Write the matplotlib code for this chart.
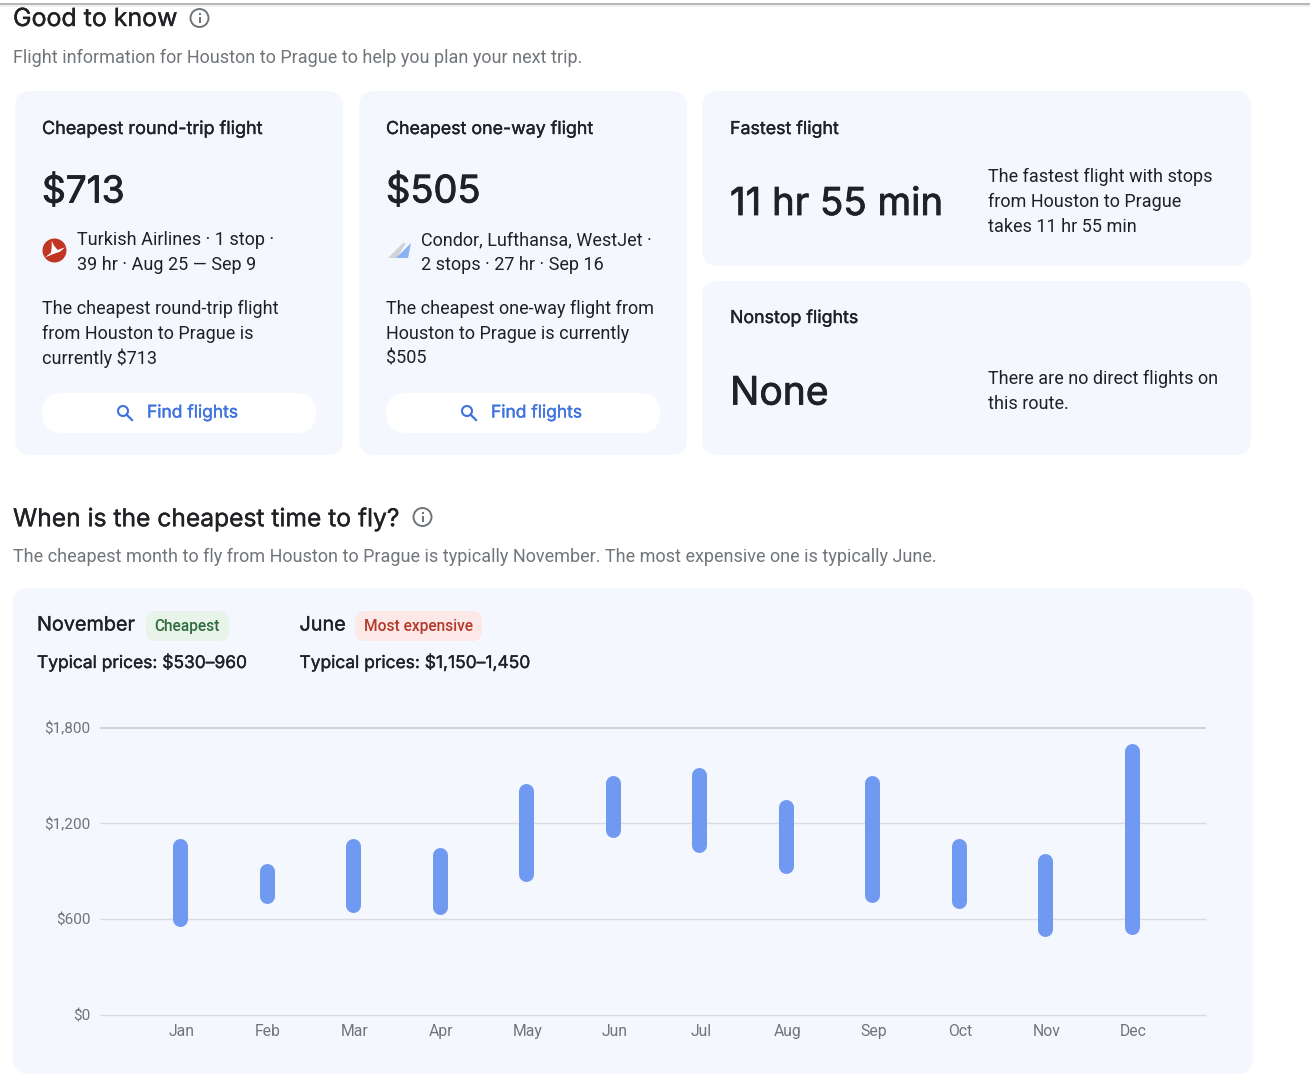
import matplotlib
matplotlib.use('Agg')
import matplotlib.pyplot as plt
import matplotlib.patheffects as pe
from matplotlib.patches import FancyBboxPatch, Circle, Polygon, Rectangle
from matplotlib.transforms import ScaledTranslation

# Datos del grafico
months = ['Jan', 'Feb', 'Mar', 'Apr', 'May', 'Jun', 'Jul', 'Aug', 'Sep', 'Oct', 'Nov', 'Dec']
price_low = [554, 698, 642, 629, 836, 1111, 1017, 886, 704, 667, 491, 504]
price_high = [1103, 948, 1104, 1049, 1447, 1500, 1547, 1350, 1500, 1103, 1009, 1697]
y_ticks = [0, 600, 1200, 1800]
y_labels = ['$0', '$600', '$1,200', '$1,800']

BODY = 'Roboto'
HEAD = 'Inter'
CARD = '#f4f7fe'
DARK = '#202124'
GRAY = '#70757a'
BLUE = '#3f73e0'

fig = plt.figure(figsize=(13.10, 10.81), dpi=100, facecolor='white')

# Fondo en coordenadas de pixel
bg = fig.add_axes([0, 0, 1, 1])
bg.set_xlim(0, 1310)
bg.set_ylim(1081, 0)
bg.axis('off')


def px(size):
    return size * 0.72


def box(x0, y0, x1, y1, r, color):
    bg.add_patch(FancyBboxPatch((x0, y0), x1 - x0, y1 - y0, boxstyle=f'round,pad=0,rounding_size={r}',
                                fc=color, ec='none'))


def txt(x, y, s, size=17.95, color=DARK, family=BODY, **kw):
    kw.setdefault('va', 'center')
    bg.text(x, y + 1, s, fontsize=px(size), color=color, family=family, **kw)


def head(x, y, s, size, color=DARK, stroke=0.25):
    # Inter sale en regular, un trazo fino lo acerca al peso medium
    t = bg.text(x, y + 1, s, fontsize=px(size), color=color, family=HEAD, va='center')
    t.set_path_effects([pe.withStroke(linewidth=stroke, foreground=color)])


def info_icon(x, y):
    bg.add_patch(Circle((x, y), 9, fc='none', ec='#70757a', lw=1.4))
    bg.add_patch(Rectangle((x - 1, y - 1), 2, 6, fc='#70757a', ec='none'))
    bg.add_patch(Rectangle((x - 1, y - 5), 2, 2, fc='#70757a', ec='none'))


def find_button(x0, x1):
    box(x0, 393, x1, 433, 20, 'white')
    cx = x0 + 81
    bg.add_patch(Circle((cx, 411), 5, fc='none', ec=BLUE, lw=1.5))
    bg.plot([cx + 3.5, cx + 9], [414.5, 420], color=BLUE, lw=1.6)
    head(x0 + 105, 412, 'Find flights', 17.4, BLUE)


# Sombra superior
bg.plot([0, 1310], [4, 4], color='#b5b7ba', lw=1.4)
bg.plot([0, 1310], [5.5, 5.5], color='#eceded', lw=1.2)

# Encabezado
head(13, 18.5, 'Good to know', 24.9)
info_icon(199.5, 18)
txt(13, 57, 'Flight information for Houston to Prague to help you plan your next trip.', color=GRAY)

# Tarjetas
box(15, 91, 343, 455, 16, CARD)
box(359, 91, 687, 455, 16, CARD)
box(702, 91, 1251, 266, 16, CARD)
box(702, 281, 1251, 455, 16, CARD)

head(42, 128.5, 'Cheapest round-trip flight', 18)
head(42, 191.5, '$713', 37, stroke=0.6)
bg.add_patch(Circle((54.5, 250.5), 12, fc='#c03523', ec='none'))
bg.add_patch(Polygon([(51.7, 241), (54.3, 246), (57.7, 250), (65, 247.3), (60, 251.7), (53.3, 254),
                      (45, 257.3), (51, 252.7), (51.7, 246.7)], fc='white', ec='none'))
txt(77, 239, 'Turkish Airlines · 1 stop ·')
txt(77, 264, '39 hr · Aug 25 — Sep 9')
txt(42, 307.5, 'The cheapest round-trip flight')
txt(42, 332.8, 'from Houston to Prague is')
txt(42, 357.5, 'currently $713')
find_button(42, 316)

head(386, 128.5, 'Cheapest one-way flight', 17.8)
head(386, 191.5, '$505', 38, stroke=0.6)
bg.add_patch(Polygon([(388, 258), (403, 243), (406, 243), (397, 258)], fc='#d0d3d8', ec='none'))
bg.add_patch(Polygon([(396, 258), (411, 243), (408, 258)], fc='#8ab0f5', ec='none'))
txt(421, 239, 'Condor, Lufthansa, WestJet ·')
txt(421, 264, '2 stops · 27 hr · Sep 16')
txt(386, 307.5, 'The cheapest one-way flight from')
txt(386, 332.8, 'Houston to Prague is currently')
txt(386, 357.5, '$505')
find_button(386, 660)

head(730, 128.5, 'Fastest flight', 17.8)
head(730, 204, '11 hr 55 min', 38.4, stroke=0.6)
txt(988, 175.5, 'The fastest flight with stops')
txt(988, 200.5, 'from Houston to Prague')
txt(988, 225.5, 'takes 11 hr 55 min')

head(730, 317.5, 'Nonstop flights', 17.8)
head(730, 393, 'None', 39, stroke=0.6)
txt(988, 377.5, 'There are no direct flights on')
txt(988, 402.8, 'this route.')

# Segunda seccion
head(13, 518.5, 'When is the cheapest time to fly?', 24.6)
info_icon(422.5, 517)
txt(13, 556, 'The cheapest month to fly from Houston to Prague is typically November. The most expensive one is typically June.', color=GRAY)

box(13, 588, 1253, 1074, 16, CARD)
head(37, 624.5, 'November', 19.8)
box(146, 611, 229, 641, 10, '#e8f3ea')
txt(154, 625, 'Cheapest', 15.5, '#2f6b3c', weight='medium')
head(37, 661.5, 'Typical prices: $530–960', 17.4)
head(299.5, 624.5, 'June', 19.8)
box(355, 611, 482, 641, 10, '#fce8e6')
txt(364, 625, 'Most expensive', 15.5, '#b3392b', weight='medium')
head(299.5, 661.5, 'Typical prices: $1,150–1,450', 17.4)

# Grafico de rangos
left, right, top, bottom = 100, 1206, 727.5, 1015
ax = fig.add_axes([left / 1310, 1 - bottom / 1081, (right - left) / 1310, (bottom - top) / 1081])
ax.patch.set_alpha(0)
ax.set_ylim(0, 1800)
ax.set_xlim(-0.925, 11.855)
for s in ax.spines.values():
    s.set_visible(False)

for t in y_ticks:
    ax.axhline(t, color='#d0d2d5' if t == 1800 else '#dadce0', lw=1.5 if t == 1800 else 1, zorder=1,
               clip_on=False, solid_capstyle='butt')

# La tapa redondeada suma medio ancho en cada punta
cap = 7.5 * 1800 / (bottom - top)
for i in range(len(months)):
    ax.plot([i, i], [price_low[i] + cap, price_high[i] - cap], color='#7099f2', lw=px(15),
            solid_capstyle='round', zorder=2)

ax.set_xticks(range(len(months)))
ax.set_xticklabels(months, family=BODY, fontsize=px(15.8), color=GRAY)
ax.set_yticks(y_ticks)
ax.set_yticklabels(y_labels, family=BODY, fontsize=px(15.3), color=GRAY)
ax.tick_params(axis='both', length=0)
ax.tick_params(axis='x', pad=6.5)
ax.tick_params(axis='y', pad=7)
for lab in ax.get_xticklabels():
    lab.set_transform(lab.get_transform() + ScaledTranslation(0.015, 0, fig.dpi_scale_trans))

fig.savefig('out.png', dpi=100)
